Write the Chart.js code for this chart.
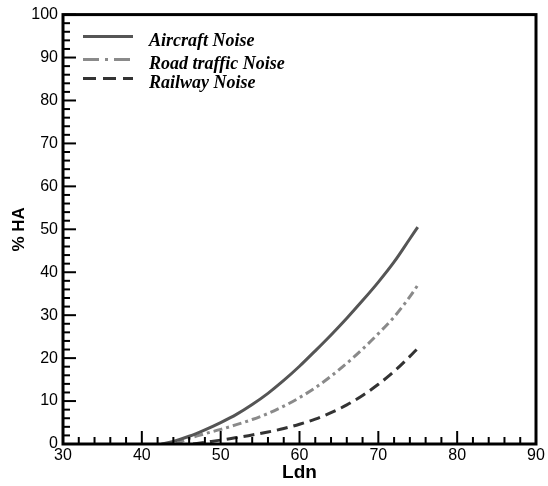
<!DOCTYPE html>
<html>
<head>
<meta charset="utf-8">
<script src="https://cdn.jsdelivr.net/npm/chart.js@4/dist/chart.umd.min.js"></script>
<style>
  html, body { margin: 0; padding: 0; background: #fff; }
  #wrap { width: 548px; height: 486px; }
</style>
</head>
<body>
<div id="wrap"><canvas id="haChart"></canvas></div>
<script>
// valores
const aircraftLdn = [42.5, 44, 46, 48, 50, 52, 54, 56, 58, 60, 62, 64, 66, 68, 70, 72, 74, 75];
const aircraftHA  = [0, 0.6, 1.8, 3.3, 5.0, 6.9, 9.2, 11.8, 14.8, 18.1, 21.7, 25.4, 29.3, 33.4, 37.7, 42.4, 47.8, 50.5];

const roadLdn = [44.3, 46, 48, 50, 52, 54, 56, 58, 60, 62, 64, 66, 68, 70, 72, 74, 75];
const roadHA  = [0, 1.3, 2.4, 3.4, 4.5, 5.7, 7.1, 8.8, 10.8, 13.1, 15.8, 18.8, 22.1, 25.7, 29.6, 34.3, 37.0];

const railLdn = [46.5, 48, 50, 52, 54, 56, 58, 60, 62, 64, 66, 68, 70, 72, 74, 75];
const railHA  = [0, 0.4, 0.9, 1.5, 2.1, 2.8, 3.6, 4.6, 5.8, 7.3, 9.1, 11.3, 13.9, 16.9, 20.4, 22.3];

const seriesNames = ['Aircraft Noise', 'Road traffic Noise', 'Railway Noise'];
const xTickLabels = [30, 40, 50, 60, 70, 80, 90];
const yTickLabels = [0, 10, 20, 30, 40, 50, 60, 70, 80, 90, 100];

const toPoints = (xs, ys) => xs.map((x, i) => ({ x: x, y: ys[i] }));

// ticks para dentro + moldura + legenda
const framePlugin = {
  id: 'frame',
  afterDraw(chart) {
    const ctx = chart.ctx;
    const a = chart.chartArea;
    const xs = chart.scales.x;
    const ys = chart.scales.y;
    ctx.save();
    ctx.strokeStyle = '#000';
    ctx.lineWidth = 2;
    for (let v = 30; v <= 90; v += 2) {
      const px = xs.getPixelForValue(v);
      const len = v % 10 === 0 ? 13 : 7;
      ctx.beginPath();
      ctx.moveTo(px, a.bottom);
      ctx.lineTo(px, a.bottom - len);
      ctx.stroke();
    }
    for (let v = 0; v <= 100; v += 2) {
      const py = ys.getPixelForValue(v);
      const len = v % 10 === 0 ? 13 : 7;
      ctx.beginPath();
      ctx.moveTo(a.left, py);
      ctx.lineTo(a.left + len, py);
      ctx.stroke();
    }
    ctx.lineWidth = 3;
    ctx.strokeRect(a.left, a.top, a.right - a.left, a.bottom - a.top);

    // legenda
    const rows = [22, 45, 64];
    chart.data.datasets.forEach((ds, i) => {
      const y = a.top + rows[i];
      ctx.strokeStyle = ds.borderColor;
      ctx.lineWidth = 3;
      ctx.setLineDash(ds.legendDash || []);
      ctx.beginPath();
      ctx.moveTo(a.left + 20, y);
      ctx.lineTo(a.left + 70, y);
      ctx.stroke();
      ctx.setLineDash([]);
      ctx.fillStyle = '#000';
      ctx.font = 'italic bold 18px "Liberation Serif", "Times New Roman", serif';
      ctx.textBaseline = 'middle';
      ctx.fillText(ds.label, a.left + 86, y + 5);
    });
    ctx.restore();
  }
};

new Chart(document.getElementById('haChart'), {
  type: 'scatter',
  data: {
    datasets: [{
      label: seriesNames[0],
      data: toPoints(aircraftLdn, aircraftHA),
      borderColor: '#555555',
      borderWidth: 3,
      showLine: true,
      pointRadius: 0,
      cubicInterpolationMode: 'monotone'
    }, {
      label: seriesNames[1],
      data: toPoints(roadLdn, roadHA),
      borderColor: '#8a8a8a',
      borderWidth: 3,
      borderDash: [9, 4, 3, 4],
      legendDash: [16, 6, 3, 6],
      showLine: true,
      pointRadius: 0,
      cubicInterpolationMode: 'monotone'
    }, {
      label: seriesNames[2],
      data: toPoints(railLdn, railHA),
      borderColor: '#333333',
      borderWidth: 3,
      borderDash: [11, 6],
      legendDash: [13, 7],
      showLine: true,
      pointRadius: 0,
      cubicInterpolationMode: 'monotone'
    }]
  },
  options: {
    responsive: true,
    maintainAspectRatio: false,
    animation: false,
    layout: {
      padding: { top: 12, right: 12, left: 0, bottom: 0 }
    },
    plugins: {
      legend: { display: false },
      tooltip: { enabled: false }
    },
    scales: {
      x: {
        type: 'linear',
        min: 30,
        max: 90,
        afterBuildTicks: (scale) => { scale.ticks = xTickLabels.map(v => ({ value: v })); },
        afterFit: (scale) => { scale.height = 42; },
        grid: { display: false, drawTicks: false },
        border: { display: false },
        ticks: {
          color: '#000',
          padding: 2,
          maxRotation: 0,
          font: { family: '"Liberation Sans", Arial, sans-serif', size: 16 }
        },
        title: {
          display: true,
          text: 'Ldn',
          color: '#000',
          padding: { top: 0, bottom: 2 },
          font: { family: '"Liberation Sans", Arial, sans-serif', size: 19, weight: 'bold' }
        }
      },
      y: {
        type: 'linear',
        min: 0,
        max: 100,
        afterBuildTicks: (scale) => { scale.ticks = yTickLabels.map(v => ({ value: v })); },
        afterFit: (scale) => { scale.width = 63; },
        grid: { display: false, drawTicks: false },
        border: { display: false },
        ticks: {
          color: '#000',
          padding: 5,
          font: { family: '"Liberation Sans", Arial, sans-serif', size: 16 }
        },
        title: {
          display: true,
          text: '% HA',
          color: '#000',
          padding: { top: 9, bottom: 0 },
          font: { family: '"Liberation Sans", Arial, sans-serif', size: 17, weight: 'bold' }
        }
      }
    }
  },
  plugins: [framePlugin]
});
</script>
</body>
</html>
